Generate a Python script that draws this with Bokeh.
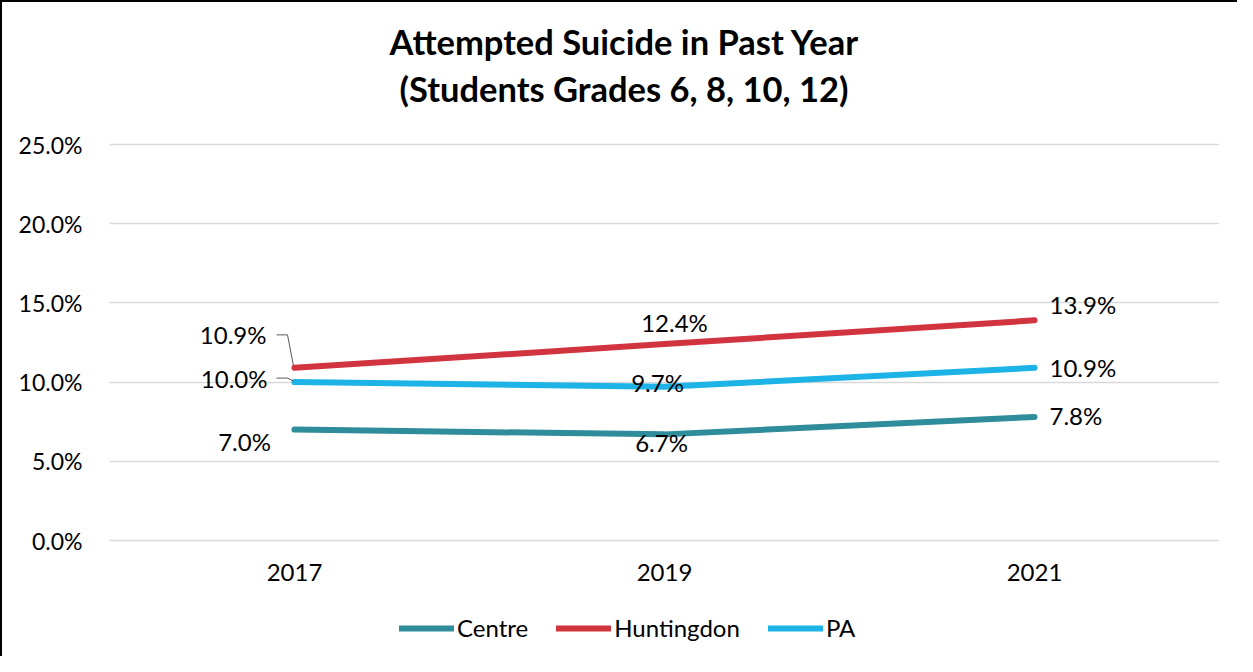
from bokeh.plotting import figure
from bokeh.models import (FactorRange, Range1d, FixedTicker, PrintfTickFormatter,
                          Legend, LegendItem, Title, ColumnDataSource)
from bokeh.core.properties import value
from bokeh.embed import file_html
from bokeh.resources import INLINE

# ---- data ----
years = ["2017", "2019", "2021"]
centre = [7.0, 6.7, 7.8]
huntingdon = [10.9, 12.4, 13.9]
pa = [10.0, 9.7, 10.9]
y_ticks = [0, 5, 10, 15, 20, 25]
title_line1 = "Attempted Suicide in Past Year"
title_line2 = "(Students Grades 6, 8, 10, 12)"

# ---- styles / layout ----
C_CENTRE = "#2F8C9B"
C_HUNT = "#D1343F"
C_PA = "#1DB3E6"
FONT = "Lato"

W, H = 1237, 656
PX_PER_PCT = 396 / 25.0          # vertical pixels per percentage point
PX_PER_CAT = 370.0               # horizontal pixels per category
FRAME_TOP = 111                  # frame extends a little above the 25% line
ZERO_PX = 538                    # pixel row of the 0% line (figure coords)
TOP25_PX = 142                   # pixel row of the 25% line
FRAME_BOTTOM = 650               # frame extends below 0 to host axis labels + legend
y_end = 25 + (TOP25_PX - FRAME_TOP) / PX_PER_PCT
y_start = -(FRAME_BOTTOM - ZERO_PX) / PX_PER_PCT

p = figure(width=W, height=H, output_backend="svg", toolbar_location=None,
           x_range=FactorRange(factors=years, range_padding=0),
           y_range=Range1d(y_start, y_end),
           min_border_left=107, min_border_right=20,
           min_border_top=FRAME_TOP, min_border_bottom=H - FRAME_BOTTOM)
p.styles = {"border-left": "2px solid black", "border-top": "2px solid black"}

p.outline_line_color = None
p.background_fill_color = "white"
p.border_fill_color = "white"

# axes
p.yaxis.ticker = FixedTicker(ticks=y_ticks)
p.yaxis.formatter = PrintfTickFormatter(format="%.1f%%")
p.xaxis.fixed_location = 0
for ax in (p.xaxis[0], p.yaxis[0]):
    ax.axis_line_color = None
    ax.major_tick_line_color = None
    ax.minor_tick_line_color = None
    ax.major_label_text_font = FONT
    ax.major_label_text_font_size = "24px"
    ax.major_label_text_color = "#000000"
p.yaxis.major_label_text_font_size = "23px"
p.yaxis.major_label_standoff = 21
p.xaxis.major_label_standoff = 17
p.xgrid.grid_line_color = None
p.ygrid.grid_line_color = "#D9D9D9"
p.ygrid.grid_line_width = 1.5

# titles (line 2 first = closest to plot); left aligned with offset so
# that they sit centred on the whole chart rather than on the plot frame
t2 = Title(text=title_line2, align="left", offset=290, text_font=FONT, text_font_style="bold",
           text_font_size="34.5px", text_color="black", standoff=9, text_line_height=0.8)
t1 = Title(text=title_line1, align="left", offset=280, text_font=FONT, text_font_style="bold",
           text_font_size="34.5px", text_color="black", standoff=0, text_line_height=0.8)
p.add_layout(t2, "above")
p.add_layout(t1, "above")

# lines
series = [("Centre", centre, C_CENTRE), ("Huntingdon", huntingdon, C_HUNT), ("PA", pa, C_PA)]
renderers = []
for name, vals, col in series:
    r = p.line(x=years, y=vals, line_color=col, line_width=6, line_cap="round", line_join="round")
    renderers.append(r)

# data labels (pixel offsets relative to points; screen y down)
label_dx = {"Centre": [-50, -3, 15], "Huntingdon": [-28, 10, 15], "PA": [-27, -7, 15]}
label_dy = {"Centre": [12, 8, -1], "Huntingdon": [-33, -22, -16], "PA": [-4, -4, 0]}
label_align = {"Centre": ["center", "center", "left"],
               "Huntingdon": ["right", "center", "left"],
               "PA": ["right", "center", "left"]}
for name, vals, col in series:
    src = ColumnDataSource(dict(
        x=years, y=vals, t=["%.1f%%" % v for v in vals],
        dx=label_dx[name], dy=label_dy[name], al=label_align[name]))
    p.text(x="x", y="y", text="t", source=src, x_offset="dx", y_offset="dy",
           text_align="al", text_baseline="middle", text_font=value(FONT),
           text_font_size="24px", text_color="#000000")

# leader lines for 2017 labels of Huntingdon and PA
for vals, dy0, dy1 in [(huntingdon, -33, -2), (pa, -4, -1)]:
    v = vals[0]
    lx = [(years[0], -18 / PX_PER_CAT), (years[0], -7 / PX_PER_CAT), (years[0], -1 / PX_PER_CAT)]
    ly = [v - dy0 / PX_PER_PCT, v - dy0 / PX_PER_PCT, v - dy1 / PX_PER_PCT]
    p.line(x=lx, y=ly, line_color="#595959", line_width=1)

legend = Legend(items=[LegendItem(label=n, renderers=[r]) for (n, _, _), r in zip(series, renderers)],
                orientation="horizontal", location=(290, 10),
                glyph_width=55, glyph_height=24, label_standoff=3, spacing=28,
                padding=0, margin=0, border_line_alpha=0, background_fill_alpha=0,
                label_text_font=FONT, label_text_font_size="24px", label_text_color="#000000")
p.add_layout(legend)

open("out.html", "w").write(file_html(p, INLINE))
